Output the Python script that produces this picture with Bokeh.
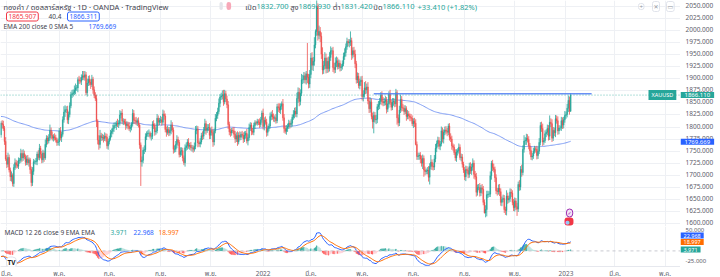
import numpy as np
import pandas as pd
from bokeh.plotting import figure
from bokeh.layouts import column, row
from bokeh.models import ColumnDataSource, FixedTicker, Label, Span, Range1d
from bokeh.core.properties import value
from bokeh.embed import file_html
from bokeh.resources import INLINE

FONT = "'Noto Sans', 'Noto Sans Thai', 'DejaVu Sans', sans-serif"

# ---------------- data (XAUUSD daily, OANDA) ----------------
first_day = "2021-02-22"
last_day = "2023-01-06"
first_open = 1784.0

closes = (
    [1808, 1805, 1797, 1770, 1734]
    + [1723, 1737, 1711, 1697, 1700, 1683, 1716, 1726, 1722, 1719, 1731, 1731, 1745, 1736, 1745, 1738, 1727, 1734, 1726, 1732, 1712, 1685, 1708]
    + [1728, 1728, 1729, 1744, 1737, 1756, 1744, 1732, 1746, 1736, 1764, 1777, 1771, 1778, 1793, 1783, 1777, 1780, 1778, 1773, 1768, 1769]
    + [1792, 1778, 1785, 1815, 1831, 1836, 1836, 1815, 1826, 1844, 1867, 1869, 1871, 1876, 1881, 1881, 1898, 1896, 1895, 1903, 1906]
    + [1903, 1908, 1871, 1891, 1899, 1893, 1888, 1899, 1877, 1866, 1859, 1812, 1773, 1764, 1782, 1778, 1779, 1776, 1781, 1779, 1761, 1770]
    + [1777, 1787, 1791, 1797, 1803, 1803, 1808, 1806, 1808, 1825, 1829, 1812, 1812, 1810, 1803, 1806, 1802, 1797, 1799, 1806, 1828, 1814]
    + [1813, 1810, 1813, 1804, 1763, 1728, 1731, 1752, 1753, 1780, 1786, 1787, 1787, 1781, 1781, 1806, 1803, 1790, 1792, 1818, 1810, 1814]
    + [1815, 1810, 1827, 1823, 1795, 1789, 1795, 1788, 1793, 1804, 1794, 1754, 1754, 1764, 1774, 1768, 1743, 1750, 1751, 1736, 1726, 1757]
    + [1761, 1769, 1760, 1762, 1757, 1757, 1754, 1760, 1793, 1796, 1767, 1765, 1769, 1782, 1781, 1793, 1807, 1793, 1798, 1799, 1783]
    + [1793, 1788, 1769, 1792, 1818, 1824, 1832, 1849, 1862, 1864, 1867, 1852, 1869, 1858, 1846, 1805, 1790, 1788, 1793, 1792, 1785, 1775]
    + [1782, 1769, 1783, 1779, 1785, 1783, 1775, 1783, 1787, 1771, 1778, 1799, 1804, 1791, 1789, 1803, 1809, 1808, 1811, 1810, 1805, 1815, 1829]
    + [1801, 1814, 1810, 1789, 1797, 1802, 1822, 1826, 1821, 1818, 1819, 1813, 1842, 1840, 1835, 1843, 1848, 1819, 1797, 1791, 1797]
    + [1801, 1808, 1805, 1808, 1820, 1826, 1833, 1827, 1859, 1872, 1853, 1870, 1898, 1898, 1906, 1898, 1910, 1903, 1889, 1909]
    + [1943, 1928, 1936, 1970, 1998, 2050, 1990, 1998, 1988, 1951, 1918, 1927, 1943, 1921, 1936, 1921, 1944, 1958, 1958, 1923, 1919, 1933, 1937]
    + [1925, 1932, 1923, 1925, 1931, 1946, 1954, 1966, 1977, 1974, 1976, 1979, 1949, 1958, 1951, 1931, 1898, 1905, 1886, 1894, 1897]
    + [1863, 1868, 1881, 1877, 1883, 1854, 1838, 1852, 1822, 1811, 1824, 1815, 1816, 1842, 1846, 1853, 1866, 1853, 1850, 1853, 1856, 1837]
    + [1848, 1868, 1851, 1841, 1852, 1853, 1848, 1871, 1819, 1809, 1835, 1857, 1840, 1839, 1832, 1838, 1822, 1827, 1823, 1820, 1818, 1807]
    + [1812, 1808, 1764, 1739, 1740, 1742, 1734, 1725, 1735, 1711, 1708, 1709, 1711, 1696, 1718, 1727, 1719, 1717, 1734, 1756, 1766]
    + [1772, 1760, 1765, 1792, 1775, 1789, 1794, 1792, 1789, 1802, 1779, 1775, 1761, 1758, 1747, 1736, 1748, 1751, 1758, 1737, 1738, 1723, 1711]
    + [1697, 1712, 1710, 1702, 1718, 1709, 1717, 1725, 1702, 1697, 1665, 1675, 1675, 1664, 1674, 1671, 1644, 1622, 1629, 1660, 1661, 1661]
    + [1699, 1725, 1716, 1712, 1695, 1668, 1666, 1673, 1666, 1644, 1650, 1652, 1629, 1627, 1657, 1649, 1652, 1665, 1663, 1644, 1633]
    + [1647, 1635, 1630, 1681, 1676, 1712, 1706, 1754, 1771, 1772, 1777, 1774, 1761, 1751, 1738, 1740, 1750, 1755, 1754, 1741, 1750, 1768]
    + [1803, 1797, 1769, 1772, 1786, 1789, 1797, 1781, 1810, 1807, 1777, 1793, 1788, 1817, 1813, 1792, 1798, 1798, 1813, 1804, 1815, 1824]
    + [1826, 1839, 1855, 1832.7, 1866.11]
)

upper_wick = (
    [4, 6, 8, 5, 9]
    + [8, 10, 6, 5, 8, 4, 7, 9, 6, 8, 6, 5, 10, 7, 9, 6, 5, 7, 8, 5, 4, 6, 9]
    + [6, 4, 7, 5, 8, 9, 5, 6, 7, 5, 10, 6, 5, 7, 12, 6, 8, 5, 7, 6, 5, 7]
    + [6, 8, 5, 7, 12, 9, 7, 8, 6, 7, 6, 8, 7, 10, 9, 6, 5, 8, 7, 6, 10]
    + [10, 8, 6, 9, 7, 8, 6, 9, 5, 7, 6, 8, 4, 10, 12, 6, 7, 5, 8, 6, 7, 5]
    + [5, 7, 6, 8, 6, 7, 5, 9, 6, 10, 4, 8, 6, 5, 7, 6, 5, 8, 6, 4, 9, 7]
    + [6, 8, 5, 7, 4, 5, 8, 6, 9, 7, 5, 6, 8, 4, 7, 6, 8, 5, 7, 9, 6, 5]
    + [8, 6, 9, 7, 5, 6, 8, 5, 7, 10, 6, 5, 8, 7, 9, 6, 5, 8, 7, 6, 5, 7]
    + [7, 6, 8, 5, 7, 6, 5, 8, 9, 7, 6, 5, 8, 6, 9, 7, 10, 6, 8, 7, 9]
    + [6, 8, 7, 5, 9, 7, 8, 10, 6, 7, 9, 10, 8, 6, 7, 8, 6, 7, 5, 6, 8, 7]
    + [7, 9, 6, 8, 5, 7, 6, 8, 5, 9, 7, 8, 6, 5, 7, 6, 5, 4, 6, 5, 8, 6, 5]
    + [9, 6, 8, 7, 6, 5, 8, 6, 9, 7, 5, 8, 6, 7, 9, 6, 5, 10, 8, 6, 7]
    + [6, 7, 5, 8, 6, 9, 7, 8, 12, 10, 9, 8, 12, 10, 8, 7, 6, 64, 7, 9]
    + [10, 12, 9, 16, 4, 20, 6, 12, 9, 8, 14, 10, 12, 9, 8, 10, 11, 9, 6, 8, 10, 11, 9]
    + [7, 8, 6, 5, 7, 8, 9, 7, 8, 5, 6, 19, 6, 7, 8, 9, 6, 8, 7, 6, 8]
    + [9, 8, 12, 14, 7, 10, 8, 9, 7, 8, 8, 7, 9, 6, 8, 7, 6, 8, 9, 7, 8, 6]
    + [7, 6, 9, 5, 8, 7, 6, 8, 5, 7, 9, 10, 7, 8, 6, 7, 5, 8, 6, 5, 7, 6]
    + [6, 7, 8, 6, 7, 5, 6, 7, 8, 6, 7, 5, 6, 8, 7, 15, 6, 7, 8, 9, 6]
    + [8, 7, 6, 9, 7, 6, 7, 8, 6, 5, 6, 8, 7, 5, 6, 7, 6, 5, 8, 6, 7, 6, 5]
    + [6, 8, 7, 6, 8, 9, 7, 10, 6, 7, 8, 6, 7, 9, 6, 8, 7, 6, 9, 8, 7, 6]
    + [9, 5, 7, 8, 6, 7, 6, 8, 9, 7, 6, 8, 7, 6, 12, 7, 6, 8, 7, 6, 7]
    + [7, 6, 8, 6, 9, 7, 10, 8, 12, 7, 9, 8, 7, 6, 8, 6, 7, 6, 5, 7, 8, 9]
    + [7, 8, 10, 6, 7, 6, 8, 7, 14, 8, 9, 7, 6, 8, 7, 9, 6, 5, 8, 7, 6, 9]
    + [6, 9, 10, 8, 3.82]
)

lower_wick = (
    [6, 8, 5, 7, 4]
    + [8, 6, 5, 9, 10, 6, 7, 5, 8, 4, 6, 7, 5, 8, 6, 5, 7, 6, 5, 8, 9, 8, 7]
    + [7, 5, 6, 8, 5, 6, 9, 7, 6, 8, 4, 6, 7, 5, 6, 8, 5, 7, 6, 5, 7, 6]
    + [8, 6, 9, 5, 6, 10, 7, 8, 9, 6, 5, 7, 6, 5, 8, 6, 9, 7, 5, 8, 6]
    + [6, 7, 5, 8, 6, 7, 9, 5, 8, 6, 5, 12, 9, 11, 8, 7, 6, 8, 5, 9, 6, 8]
    + [6, 5, 8, 6, 7, 5, 9, 6, 8, 5, 7, 6, 8, 5, 9, 6, 7, 5, 8, 6, 5, 7]
    + [7, 6, 8, 5, 8, 50, 10, 6, 8, 5, 7, 6, 8, 5, 9, 6, 7, 8, 6, 5, 7, 6]
    + [6, 7, 5, 8, 6, 9, 5, 7, 6, 8, 5, 9, 7, 6, 8, 7, 6, 5, 9, 7, 5, 8]
    + [6, 8, 5, 7, 6, 8, 7, 5, 6, 8, 9, 6, 7, 5, 8, 6, 7, 9, 5, 6, 8]
    + [8, 6, 10, 7, 5, 6, 7, 5, 8, 6, 7, 8, 5, 6, 7, 9, 7, 8, 6, 5, 7, 8]
    + [6, 8, 5, 7, 6, 5, 8, 6, 7, 5, 9, 6, 7, 8, 5, 6, 7, 4, 5, 6, 7, 5, 6]
    + [6, 8, 5, 9, 7, 6, 5, 8, 6, 7, 8, 6, 5, 9, 6, 8, 7, 6, 9, 5, 7]
    + [7, 5, 8, 6, 7, 5, 8, 6, 7, 9, 10, 8, 6, 9, 7, 8, 10, 12, 9, 8]
    + [8, 10, 12, 9, 7, 9, 11, 8, 12, 10, 9, 8, 7, 10, 9, 8, 6, 7, 8, 9, 8, 7, 9]
    + [6, 5, 8, 7, 6, 5, 7, 8, 6, 7, 9, 8, 10, 7, 6, 9, 8, 7, 6, 8, 9]
    + [8, 10, 7, 9, 8, 7, 9, 8, 6, 14, 24, 6, 9, 8, 7, 9, 6, 8, 7, 6, 8, 9]
    + [6, 8, 5, 7, 6, 8, 7, 6, 14, 8, 7, 6, 8, 6, 7, 5, 9, 6, 7, 8, 6, 5]
    + [9, 8, 2, 7, 7, 8, 9, 7, 12, 14, 8, 6, 7, 9, 15, 6, 8, 7, 6, 7, 8]
    + [7, 6, 8, 5, 7, 9, 6, 7, 8, 6, 7, 6, 8, 7, 5, 6, 8, 7, 6, 5, 8, 7, 6]
    + [7, 9, 6, 8, 7, 6, 8, 7, 9, 6, 9, 7, 6, 8, 7, 9, 6, 1, 9, 14, 7, 6]
    + [6, 8, 7, 6, 9, 7, 8, 6, 9, 7, 8, 6, 7, 9, 10, 8, 6, 7, 8, 6, 7]
    + [8, 7, 14, 6, 8, 7, 9, 6, 7, 8, 9, 6, 7, 8, 6, 7, 6, 5, 7, 8, 7, 6]
    + [6, 7, 8, 6, 5, 7, 6, 9, 8, 7, 8, 6, 7, 9, 6, 8, 7, 5, 6, 8, 7, 6]
    + [7, 6, 8, 7, 1.28]
)

# indicator starting states (values of the indicators just before the first bar)
ema200_start = 1822.0
ema12_start = 1805.0
ema26_start = 1820.0
signal_start = -13.0

# horizontal line drawn on the chart
level_price = 1869.0
level_from_day = "2022-05-16"
level_bars_past_last = 18

# scale ticks
price_ticks = list(range(1600, 2051, 25))
macd_ticks = [50, -25]

# header texts
title_text = "ทองคำ / ดอลลาร์สหรัฐ · 1D · OANDA · TradingView"
ohlc_names = ["เปิด", "สูง", "ต่ำ", "ปิด"]
ohlc_values = ["1832.700", "1869.930", "1831.420", "1866.110"]
change_text = "+33.410 (+1.82%)"
sell_text, spread_text, buy_text = "1865.907", "40.4", "1866.311"
ema_legend, ema_value = "EMA 200 close 0 SMA 5", "1769.669"
macd_legend = "MACD 12 26 close 9 EMA EMA"
macd_hist_txt, macd_txt, signal_txt = "3.971", "22.968", "18.997"
last_price_txt = "1866.110"
symbol_txt = "XAUUSD"
thai_months = {1: "ม.ค.", 3: "มี.ค.", 5: "พ.ค.", 7: "ก.ค.", 9: "ก.ย.", 11: "พ.ย."}

# ---------------- derived ----------------
assert len(closes) == len(upper_wick) == len(lower_wick)
dates = pd.bdate_range(first_day, last_day)
n = len(dates)
assert n == len(closes), (n, len(closes))
c = np.array(closes, dtype=float)
o = np.concatenate([[first_open], c[:-1]])
top = np.maximum(o, c)
bot = np.minimum(o, c)
hi = top + np.array(upper_wick, dtype=float)
lo = bot - np.array(lower_wick, dtype=float)
x = np.arange(n)
UP, DOWN = "#26a69a", "#ef5350"
col = np.where(c >= o, UP, DOWN)


def ema(values, span, start):
    a = 2.0 / (span + 1.0)
    out, prev = [], start
    for v in values:
        prev = a * v + (1 - a) * prev
        out.append(prev)
    return np.array(out)


ema200 = ema(c, 200, ema200_start)
macd = ema(c, 12, ema12_start) - ema(c, 26, ema26_start)
signal = ema(macd, 9, signal_start)
hist = macd - signal
hcol = []
for i, h in enumerate(hist):
    prev = hist[i - 1] if i else h
    if h >= 0:
        hcol.append("#26a69a" if h >= prev else "#b2dfdb")
    else:
        hcol.append("#ffcdd2" if h >= prev else "#ff5252")

all_days = pd.bdate_range(first_day, "2023-08-31")
tick_pos, tick_lab = [], {}
for (yy, mm), grp in pd.Series(np.arange(len(all_days)), index=all_days).groupby([all_days.year, all_days.month]):
    if mm in thai_months and 0 < grp.iloc[0] < 584:
        pos = int(grp.iloc[0])
        tick_pos.append(pos)
        tick_lab[pos] = str(yy) if mm == 1 else thai_months[mm]

src = ColumnDataSource(dict(x=x, hi=hi, lo=lo, top=top, bot=bot, col=col, ema=ema200,
                            macd=macd, signal=signal, hist=hist, hcol=hcol))

xr = Range1d(-0.43, 583.3)
yr1 = Range1d(1594, 2062)
yr2 = Range1d(-37, 58)
GRID = "#eef0f4"
AX_TXT = "#5d606b"
TXT = "#3f434e"


def bare(p):
    p.outline_line_color = None
    p.background_fill_color = "white"
    p.border_fill_color = "white"


def lab(p, xx, yy, text, color, size="7px", align="left", bg=None, border=None,
        pad=0, radius=0, weight="normal", yunits="screen"):
    p.add_layout(Label(x=xx, y=yy, x_units="screen", y_units=yunits, text=text,
                       text_color=color, text_font_size=size, text_font=FONT,
                       text_align=align, text_baseline="middle", background_fill_color=bg,
                       border_line_color=border, padding=pad, border_radius=radius,
                       text_font_style=weight))


# ---------------- main pane ----------------
H1 = 226
p1 = figure(frame_width=680, frame_height=H1, x_range=xr, y_range=yr1,
            output_backend="svg", toolbar_location=None, x_axis_location=None,
            y_axis_location=None, min_border=0)
bare(p1)
p1.xgrid.ticker = FixedTicker(ticks=tick_pos)
p1.ygrid.ticker = FixedTicker(ticks=price_ticks)
p1.xgrid.grid_line_color = GRID
p1.ygrid.grid_line_color = GRID

p1.add_layout(Span(location=float(c[-1]), dimension="width", line_color=UP,
                   line_dash="1 2", line_width=1, line_alpha=0.7))
p1.line("x", "ema", source=src, line_color="#7e9cf3", line_width=1)
p1.segment(x0="x", y0="lo", x1="x", y1="hi", line_color="col", line_width=0.8, source=src)
p1.vbar(x="x", width=0.72, top="top", bottom="bot", fill_color="col", line_color="col",
        line_width=0.4, source=src)
lvl_start = int(np.where(dates == pd.Timestamp(level_from_day))[0][0])
p1.segment(x0=[lvl_start], y0=[level_price], x1=[n - 1 + level_bars_past_last], y1=[level_price],
           line_color="#4f7df5", line_width=1.6, line_alpha=0.85)

lab(p1, 3, H1 - 6, title_text, TXT, size="7.5px")
lab(p1, 219, H1 - 5.5, " ", TXT, size="5px", bg="#e3e5ea", pad=1, radius=3)
lab(p1, 226, H1 - 5.5, "  ", TXT, size="5px", bg="#f7a8b8", pad=1, radius=3)
num_x = [256, 298, 340, 382]
for nm, vv, xx in zip(ohlc_names, ohlc_values, num_x):
    lab(p1, xx, H1 - 6, nm, TXT, size="7.5px", align="right")
    lab(p1, xx, H1 - 6, vv, UP, size="7.5px")
lab(p1, 417, H1 - 6, change_text, UP, size="7.5px")
lab(p1, 6, H1 - 16, sell_text, "#f23645", size="6.5px", bg="white", border="#f23645", pad=2, radius=2)
lab(p1, 48, H1 - 16, spread_text, TXT, size="6.5px")
lab(p1, 67, H1 - 16, buy_text, "#2962ff", size="6.5px", bg="white", border="#2962ff", pad=2, radius=2)
lab(p1, 3, H1 - 26, ema_legend, TXT, size="6.5px")
lab(p1, 88, H1 - 26, ema_value, "#2962ff", size="6.5px")
for xx, t in zip([638, 652, 666], ["+", "✕", "▭"]):
    lab(p1, xx, H1 - 6, t, "#9598a1", size="6px", border="#e0e3eb", pad=1, radius=2)
lab(p1, 648, float(c[-1]), symbol_txt, "white", size="5.5px", bg=UP, pad=(3, 1), yunits="data")
lab(p1, 566, H1 - 212.5, "✓", "#9c27b0", size="5px", bg="#f3e5f5", border="#9c27b0", pad=1, radius=4)
lab(p1, 564, H1 - 221, "●  ", "#90caf9", size="5px", bg="#f23645", pad=1, radius=3)

# price scale (right)
s1 = figure(frame_width=40, frame_height=H1, x_range=Range1d(0, 40), y_range=yr1,
            output_backend="svg", toolbar_location=None, x_axis_location=None,
            y_axis_location=None, min_border=0)
bare(s1)
s1.xgrid.visible = False
s1.ygrid.visible = False
tsrc = ColumnDataSource(dict(y=price_ticks, t=["%.3f" % v for v in price_ticks]))
s1.text(x=5, y="y", text="t", source=tsrc, text_font=value(FONT), text_font_size=value("6.5px"),
        text_color=AX_TXT, text_baseline="middle", y_offset=-1)
lab(s1, 0, float(c[-1]), last_price_txt, "white", size="6px", bg=UP, pad=(4, 1), yunits="data")
lab(s1, 0, float(ema_value), ema_value, "white", size="6px", bg="#2962ff", pad=(4, 1), yunits="data")

# ---------------- MACD pane ----------------
H2 = 40
p2 = figure(frame_width=680, frame_height=H2, x_range=xr, y_range=yr2,
            output_backend="svg", toolbar_location=None, y_axis_location=None,
            min_border=0)
bare(p2)
p2.xgrid.ticker = FixedTicker(ticks=tick_pos)
p2.xgrid.grid_line_color = GRID
p2.ygrid.grid_line_color = None
xa = p2.xaxis[0]
xa.ticker = FixedTicker(ticks=tick_pos)
xa.major_label_overrides = tick_lab
xa.major_label_text_font_size = "6.5px"
xa.major_label_text_font = FONT
xa.major_label_text_color = AX_TXT
xa.major_tick_line_color = None
xa.minor_tick_line_color = None
xa.major_tick_out = 0
xa.major_tick_in = 0
xa.minor_tick_out = 0
xa.minor_tick_in = 0
xa.axis_line_color = "#e6e8ee"
xa.major_label_standoff = 2

p2.add_layout(Span(location=0, dimension="width", line_color="#c8cad0", line_dash="3 3", line_width=1))
p2.vbar(x="x", width=0.72, top="hist", bottom=0, fill_color="hcol", line_color="hcol",
        line_width=0.3, source=src)
p2.line("x", "macd", source=src, line_color="#2962ff", line_width=1)
p2.line("x", "signal", source=src, line_color="#ff6d00", line_width=1)

lab(p2, 4, H2 - 6, macd_legend, TXT, size="6.5px")
lab(p2, 110, H2 - 6, macd_hist_txt, UP, size="6.5px")
lab(p2, 133, H2 - 6, macd_txt, "#2962ff", size="6.5px")
lab(p2, 158, H2 - 6, signal_txt, "#ff6d00", size="6.5px")
lab(p2, 6, H2 - 36, "TV", "#131722", size="6.5px", bg="white", border="#e0e3eb", pad=1, radius=4, weight="bold")

s2 = figure(frame_width=40, frame_height=H2, x_range=Range1d(0, 40), y_range=yr2,
            output_backend="svg", toolbar_location=None, x_axis_location=None,
            y_axis_location=None, min_border=0, min_border_bottom=11)
bare(s2)
s2.xgrid.visible = False
s2.ygrid.visible = False
msrc = ColumnDataSource(dict(y=macd_ticks, t=["%.3f" % v for v in macd_ticks]))
s2.text(x=5, y="y", text="t", source=msrc, text_font=value(FONT), text_font_size=value("6px"),
        text_color=AX_TXT, text_baseline="middle")
lab(s2, 0, H2 - 9, macd_txt, "white", size="5.5px", bg="#2962ff", pad=(3, 1))
lab(s2, 0, H2 - 15.5, signal_txt, "white", size="5.5px", bg="#ff6d00", pad=(3, 1))
lab(s2, 0, H2 - 23, macd_hist_txt, "white", size="5.5px", bg=UP, pad=(3, 1))

layout = column(row(p1, s1), row(p2, s2))
open("out.html", "w").write(file_html(layout, INLINE))
